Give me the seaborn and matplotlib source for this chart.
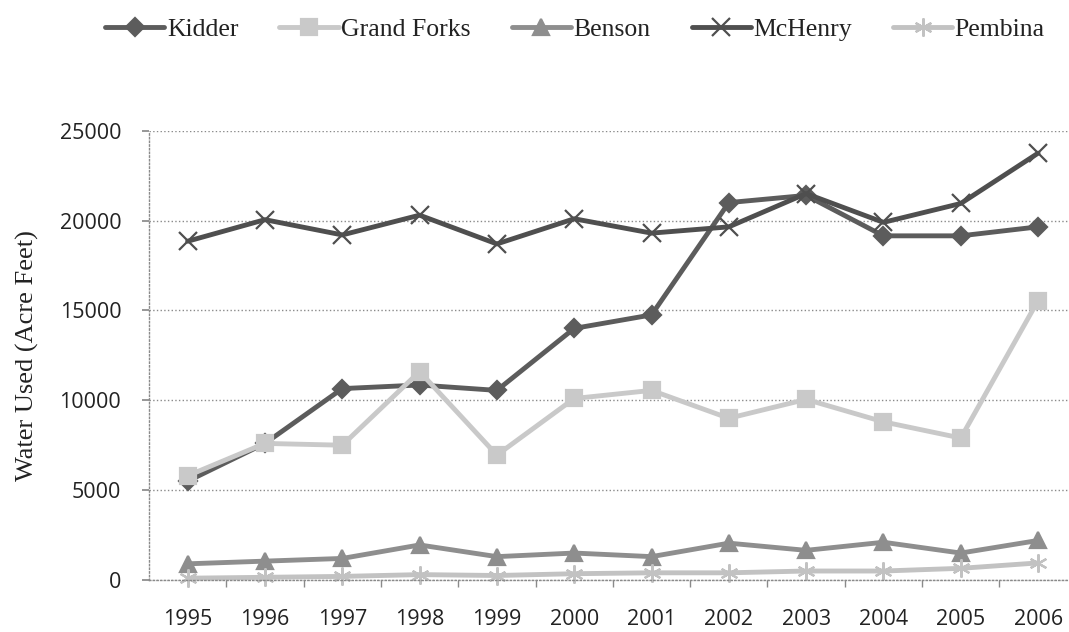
import pandas as pd
import numpy as np
import matplotlib
matplotlib.use("Agg")
import matplotlib.pyplot as plt
import seaborn as sns
from matplotlib.ticker import FixedLocator

# Datos
years = [1995, 1996, 1997, 1998, 1999, 2000, 2001, 2002, 2003, 2004, 2005, 2006]
kidder = [5500, 7600, 10650, 10850, 10550, 14000, 14750, 21000, 21400, 19150, 19150, 19650]
grand_forks = [5800, 7600, 7500, 11600, 6950, 10100, 10550, 9000, 10050, 8800, 7900, 15550]
benson = [900, 1050, 1200, 1950, 1300, 1500, 1300, 2050, 1650, 2100, 1500, 2200]
mchenry = [18850, 20050, 19200, 20300, 18700, 20100, 19300, 19650, 21500, 19900, 20950, 23750]
pembina = [100, 150, 200, 300, 250, 350, 400, 400, 500, 500, 650, 950]

series = ['Kidder', 'Grand Forks', 'Benson', 'McHenry', 'Pembina']
valores = [kidder, grand_forks, benson, mchenry, pembina]

df = pd.DataFrame({
    'year': years * len(series),
    'county': np.repeat(series, len(years)),
    'water': np.concatenate(valores),
})

colores = {'Kidder': '#5c5c5c', 'Grand Forks': '#c9c9c9', 'Benson': '#8e8e8e',
           'McHenry': '#4f4f4f', 'Pembina': '#c2c2c2'}
marcadores = {'Kidder': 'D', 'Grand Forks': 's', 'Benson': '^', 'McHenry': 'x', 'Pembina': (6, 2, 0)}
tamanos = {'Kidder': 9.5, 'Grand Forks': 12, 'Benson': 11.5, 'McHenry': 13, 'Pembina': 13}

sns.set_theme(style="white")
plt.rcParams['font.family'] = ['Open Sans', 'DejaVu Sans']

fig = plt.figure(figsize=(10.69, 6.32), dpi=100)
ax = fig.add_axes([149 / 1069, 52 / 632, 920 / 1069, 449.3 / 632])

ax.yaxis.grid(True, linestyle=':', color='#8a8a8a', linewidth=1.0)
ax.set_axisbelow(True)

# una llamada por condado (seaborn no mezcla marcadores rellenos y de linea)
for nombre in series:
    sub = df[df['county'] == nombre]
    sns.lineplot(data=sub, x='year', y='water', color=colores[nombre],
                 marker=marcadores[nombre], markersize=tamanos[nombre],
                 markeredgecolor=colores[nombre], markerfacecolor=colores[nombre],
                 markeredgewidth=1.6, linewidth=3.5, label=nombre,
                 clip_on=False, ax=ax)

ax.set_xlim(1994.5, 2006.4)
ax.set_ylim(0, 25000)
ax.set_xticks(years)
ax.set_xticklabels([str(y) for y in years], fontsize=15.5, color='#222222')
ax.xaxis.set_minor_locator(FixedLocator([y + 0.5 for y in years[:-1]]))
ax.set_yticks([0, 5000, 10000, 15000, 20000, 25000])
ax.set_yticklabels(['0', '5000', '10000', '15000', '20000', '25000'])
ax.tick_params(axis='y', labelsize=15.5, labelcolor='#222222', length=5, color='#8a8a8a', pad=15, left=True)
ax.tick_params(axis='x', which='major', length=0, pad=21)
ax.tick_params(axis='x', which='minor', length=5, color='#8a8a8a', bottom=True)

for s in ['top', 'right']:
    ax.spines[s].set_visible(False)
for s in ['left', 'bottom']:
    ax.spines[s].set_linestyle(':')
    ax.spines[s].set_color('#8a8a8a')
    ax.spines[s].set_linewidth(1.0)

ax.set_xlabel('')
ax.set_ylabel('Water Used (Acre Feet)', family=['Liberation Serif', 'DejaVu Serif'],
              fontsize=19, color='#222222', labelpad=15)

handles, labels = ax.get_legend_handles_labels()
ax.get_legend().remove()
leg = fig.legend(handles, labels, loc='center', bbox_to_anchor=(575 / 1069, 1 - 30 / 632),
                 ncol=5, frameon=False, handlelength=2.3, handletextpad=0.1,
                 columnspacing=1.6, prop={'family': ['Liberation Serif', 'DejaVu Serif'], 'size': 18.5})
for t in leg.get_texts():
    t.set_color('#222222')

plt.savefig('out.png', dpi=100)
plt.close()
